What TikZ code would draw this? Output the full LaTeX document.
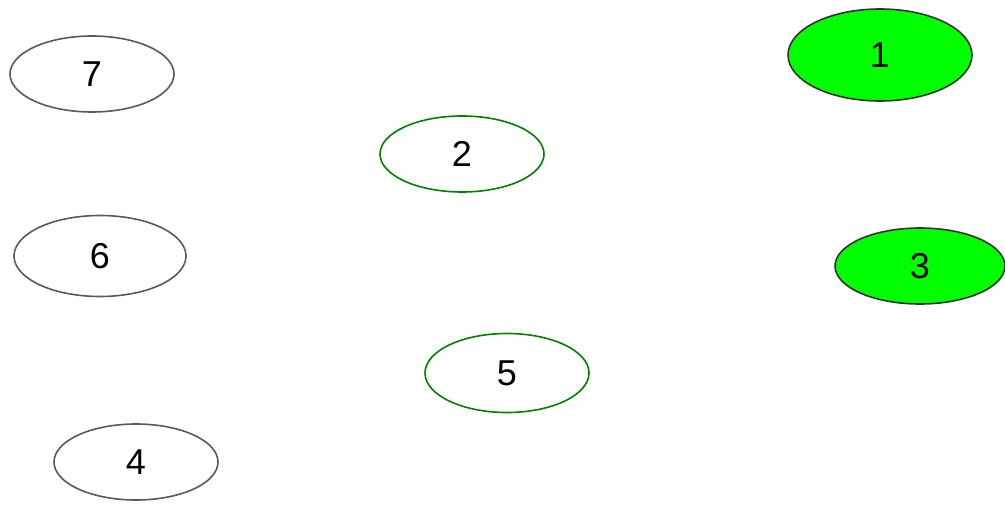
\documentclass[tikz,border=0pt]{standalone}
\usepackage{fontspec}
\setmainfont{Liberation Sans}
\usetikzlibrary{shapes.geometric, positioning}
\tikzset{
  vertex/.style     = {ellipse, draw=black!65, line width=1.6pt, fill=white,
                       minimum width=164pt, minimum height=76pt, inner sep=0pt,
                       font=\fontsize{36}{42}\selectfont},
  visited/.style    = {vertex, draw=green!50!black},
  current/.style    = {vertex, draw=black!80, fill=green},
}

\begin{document}
\begin{tikzpicture}[x=1pt, y=-1pt]
  \useasboundingbox (0,0) rectangle (1005,505);

  \node[current, minimum width=184pt, minimum height=92pt] (n1) at (880,55)  {1};
  \node[visited] (n2) at (462,154) {2};
  \node[current, minimum width=170pt] (n3) at (920,266) {3};
  \node[vertex]  (n4) at (136,462) {4};
  \node[visited, minimum height=79pt] (n5) at (507,373) {5};
  \node[vertex, minimum width=172pt, minimum height=81pt] (n6) at (100,256) {6};
  \node[vertex]  (n7) at (92,74)   {7};
\end{tikzpicture}
\end{document}
